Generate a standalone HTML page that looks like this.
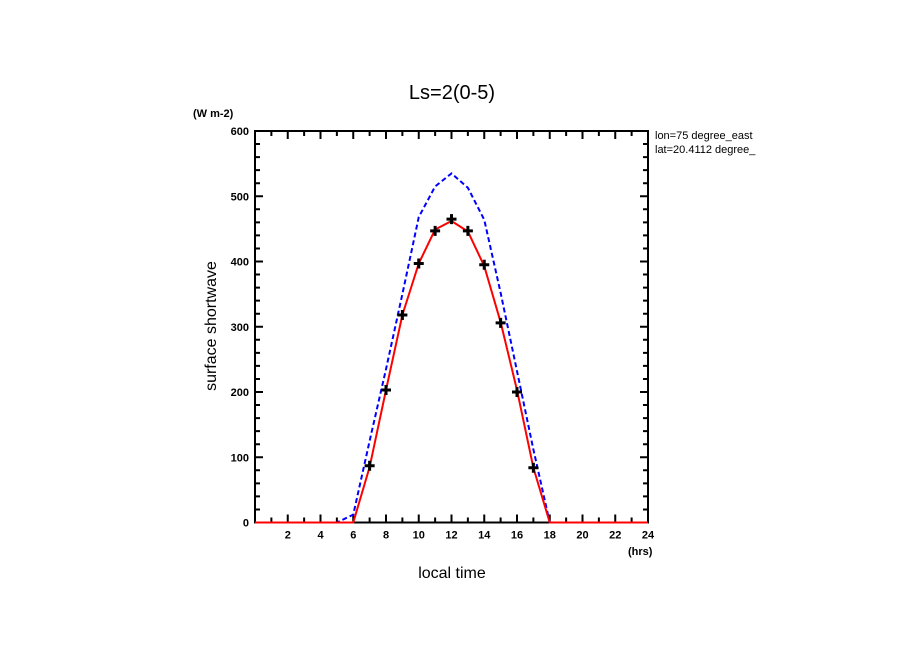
<!DOCTYPE html>
<html><head><meta charset="utf-8"><style>
body{margin:0;background:#fff;}
svg{display:block;font-family:"Liberation Sans",sans-serif;}
</style></head><body>
<svg id="chart" width="904" height="654">
<text x="452" y="99" font-size="20" text-anchor="middle">Ls=2(0-5)</text>
<text x="193" y="117" font-size="11" font-weight="bold">(W m-2)</text>
<text x="655" y="139" font-size="11">lon=75 degree_east</text>
<text x="655" y="153" font-size="11">lat=20.4112 degree_</text>
<text x="628" y="555" font-size="11" font-weight="bold">(hrs)</text>
<text x="452" y="578" font-size="16" text-anchor="middle">local time</text>
<text transform="translate(216,326) rotate(-90)" font-size="16" text-anchor="middle">surface shortwave</text>
<g id="axes"></g><g id="series"></g>
</svg>
<script>
const hours=[0,1,2,3,4,5,6,7,8,9,10,11,12,13,14,15,16,17,18,19,20,21,22,23,24];
const blueValues=[0,0,0,0,0,0,12,125,235,350,468,515,535,513,464,352,232,112,0,0,0,0,0,0,0];
const redValues=[0,0,0,0,0,0,0,85,203,318,397,449,462,446,393,307,203,84,0,0,0,0,0,0,0];
const markerHours=[7,8,9,10,11,12,13,14,15,16,17];
const markerValues=[87,203,318,397,447,465,447,395,306,200,84];
const yTicks=[0,100,200,300,400,500,600];
const xTickLabels=[2,4,6,8,10,12,14,16,18,20,22,24];
const L=255,R=648,T=131,B=522.5;
const sx=h=>L+(R-L)*h/24, sy=v=>B-(B-T)*v/600;
const NS='http://www.w3.org/2000/svg';
const axes=document.getElementById('axes'), ser=document.getElementById('series');
function mk(tag,attrs,parent){const e=document.createElementNS(NS,tag);for(const k in attrs)e.setAttribute(k,attrs[k]);parent.appendChild(e);return e;}
const frame=mk('rect',{x:L,y:T,width:R-L,height:B-T,fill:'none',stroke:'#000','stroke-width':2},axes);


let d='';
for(let h=0;h<=24;h++){const x=sx(h),len=h%2==0?8:5;d+=`M${x} ${B}V${B-len}M${x} ${T}V${T+len}`;}
for(let v=0;v<=600;v+=20){const y=sy(v),len=v%100==0?8:5;d+=`M${L} ${y}H${L+len}M${R} ${y}H${R-len}`;}
const ticks=mk('path',{d:d,stroke:'#000','stroke-width':2},axes);


yTicks.forEach(v=>{const t=mk('text',{x:L-6,y:sy(v)+4,'font-size':11,'font-weight':'bold','text-anchor':'end'},axes);t.textContent=v;

});
xTickLabels.forEach(h=>{const t=mk('text',{x:sx(h),y:B+16,'font-size':11,'font-weight':'bold','text-anchor':'middle'},axes);t.textContent=h;

});
const pts=vals=>hours.map((h,i)=>sx(h)+','+sy(vals[i])).join(' ');
const blue=mk('polyline',{points:pts(blueValues),fill:'none',stroke:'#0000ff','stroke-width':2,'stroke-dasharray':'5,3'},ser);


const red=mk('polyline',{points:pts(redValues),fill:'none',stroke:'#ff0000','stroke-width':2},ser);


markerHours.forEach((h,i)=>{const x=sx(h),y=sy(markerValues[i]);
const m=mk('path',{d:`M${x-5} ${y}H${x+5}M${x} ${y-5}V${y+5}`,stroke:'#000','stroke-width':3},ser);

});
</script>
</body></html>
